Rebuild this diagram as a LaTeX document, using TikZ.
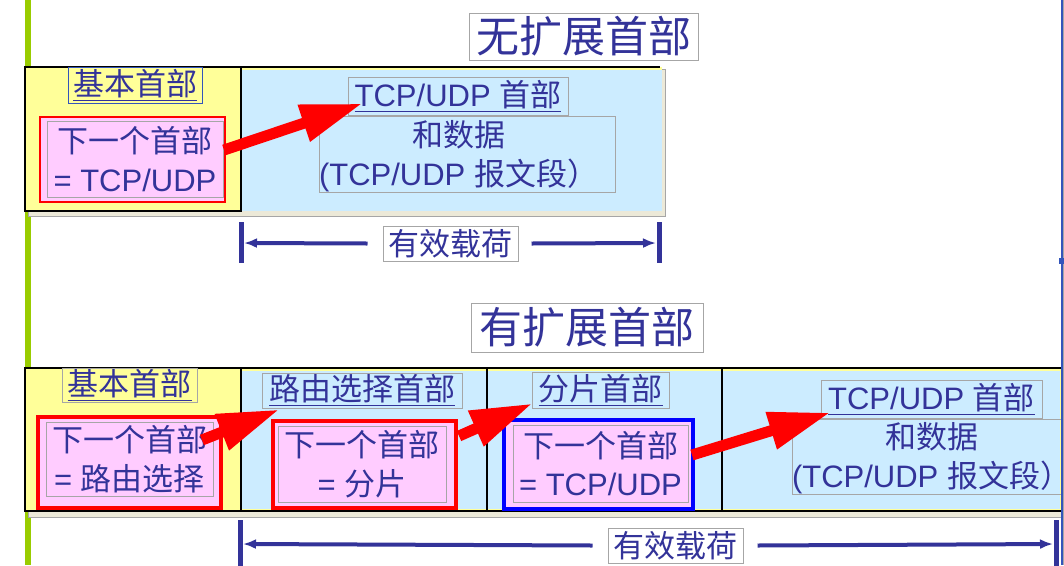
\documentclass[tikz,border=0pt]{standalone}
\usepackage{fontspec}
\setmainfont{Liberation Sans}
\newfontfamily\cjk{Noto Sans CJK SC}
\usetikzlibrary{arrows.meta,calc}
\definecolor{hdrtext}{HTML}{333399}
\definecolor{hdryellow}{HTML}{FFFF99}
\definecolor{hdrblue}{HTML}{CCECFF}
\definecolor{hdrpink}{HTML}{FFCCFF}
\definecolor{hdrgray}{HTML}{A6A6A6}
\definecolor{hdrbeige}{HTML}{ECE9D8}
\definecolor{hdrgreen}{HTML}{99CC00}
\definecolor{hdredge}{HTML}{3355BB}
\newcommand{\zh}[1]{{\cjk #1}}

\begin{document}
\begin{tikzpicture}[x=0.75pt,y=-0.75pt,
  font=\fontsize{23.25}{29}\selectfont,text=hdrtext,
  sz/.style 2 args={minimum width={#1*0.75pt},minimum height={#2*0.75pt}},
  txtbox/.style={draw=hdrgray,line width=0.75pt,inner sep=0pt,align=center},
  plaintxt/.style={inner sep=0pt,align=center},
  title/.style={txtbox,font=\fontsize{32.25}{36}\selectfont},
  redframe/.style={draw=red,fill=hdrpink,inner sep=0pt},
  hop/.style={red,line width=8.25pt,-{Triangle[length=46.5pt,width=27pt]}},
  paybar/.style={hdrtext,line width=3.75pt},
  payline/.style={hdrtext,line width=3pt,-{Latex[length=9.75pt,width=7.5pt]}}]
\useasboundingbox (0,0) rectangle (1064,565);
\fill[white] (0,0) rectangle (1064,565);
\fill[hdrgreen] (25,0) rectangle (31,565);

% without extension headers
\filldraw[fill=hdrbeige,draw=hdrgray,line width=0.75pt] (28,69) rectangle (665,216);
\fill[hdryellow] (25,67) rectangle (662,211);
\fill[hdrblue] (241,70) rectangle (662,211);
\draw[black,line width=1.5pt] (25,67) rectangle (241,211);
\draw[black,line width=1.5pt] (241,67) -- (660,67);
\node[title,sz={229}{47}] (plain) at (583.5,36.5) {\zh{无扩展首部}};
\node[txtbox,draw=hdredge,sz={134}{36}] (base1) at (135,85) {\underline{\zh{基本首部}}};
\node[redframe,line width=1.5pt,sz={185}{85}] (nh1) at (132.5,159.5) {};
\node[txtbox,sz={176}{76}] (nh1t) at (135,159) {\zh{下一个首部}\\= TCP/UDP};
\node[txtbox,sz={220}{38}] (tcp1) at (458,96) {\underline{TCP/UDP \zh{首部}}};
\node[txtbox,sz={296}{76}] (data1) at (467,154) {};
\node[plaintxt] (data1t) at (458.5,156) {\zh{和数据}\\(TCP/UDP \zh{报文段）}};
\draw[hop] ($(nh1.east)+(-2,-9.5)$) -- ($(tcp1.south west)+(15,-12)$);

\node[txtbox,sz={135}{35}] (pay1) at (450.5,243.5) {\zh{有效载荷}};
\coordinate (pay1L) at (241,243);
\coordinate (pay1R) at (659,243);
\draw[paybar] ($(pay1L)+(0,-21)$) -- ($(pay1L)+(0,20)$);
\draw[paybar] ($(pay1R)+(0,-21)$) -- ($(pay1R)+(0,20)$);
\draw[payline] ($(pay1.west)+(-15,0)$) -- ($(pay1L)+(3,0)$);
\draw[payline] ($(pay1.east)+(13,0)$) -- ($(pay1R)+(-3,0)$);

% with extension headers
\filldraw[fill=hdrbeige,draw=hdrgray,line width=0.75pt] (28,370) rectangle (1070,517);
\fill[hdryellow] (25,368) rectangle (1064,511);
\fill[hdrblue] (241,371) rectangle (1060,509);
\draw[black,line width=1.5pt] (1070,368) -- (25,368) -- (25,511) -- (1070,511);
\foreach \xd in {241,487,722}
  \draw[black,line width=1.5pt] (\xd,368) -- (\xd,511);
\node[title,sz={232}{49}] (ext) at (587,327.5) {\zh{有扩展首部}};
\node[txtbox,sz={135}{34}] (base2) at (129.5,385) {\underline{\zh{基本首部}}};
\node[redframe,line width=3pt,sz={183}{91}] (nh2) at (129.5,462.5) {};
\node[txtbox,sz={167}{74}] (nh2t) at (129.5,459) {\zh{下一个首部}\\= \zh{路由选择}};
\node[txtbox,sz={200}{35}] (route) at (362,390.5) {\underline{\zh{路由选择首部}}};
\node[redframe,line width=3pt,sz={183}{87}] (nh3) at (364.5,464.5) {};
\node[txtbox,sz={168}{76}] (nh3t) at (362,464) {\zh{下一个首部}\\= \zh{分片}};
\node[txtbox,sz={137}{36}] (frag) at (600.5,390) {\underline{\zh{分片首部}}};
\node[redframe,draw=blue,line width=3pt,sz={189}{89}] (nh4) at (598.5,464.5) {};
\node[txtbox,sz={175}{77}] (nh4t) at (600.5,463.5) {\zh{下一个首部}\\= TCP/UDP};
\node[txtbox,sz={221}{38}] (tcp2) at (931.5,399) {\underline{TCP/UDP \zh{首部}}};
\node[txtbox,sz={296}{75}] (data2) at (940,456.5) {};
\node[plaintxt] (data2t) at (931.5,458) {\zh{和数据}\\(TCP/UDP \zh{报文段）}};
\draw[hop] ($(nh2.east)+(-21,-22.5)$) -- ($(route.south west)+(18,1)$);
\draw[hop] ($(nh3.east)+(1,-28.5)$) -- ($(frag.south west)+(1,-5)$);
\draw[hop] ($(nh4.east)+(-3,-9.5)$) -- ($(tcp2.south west)+(10,-6)$);

\node[txtbox,sz={135}{35}] (pay2) at (675.5,545.5) {\zh{有效载荷}};
\coordinate (pay2L) at (240,544);
\coordinate (pay2R) at (1056,544);
\draw[paybar] ($(pay2L)+(0,-24)$) -- ($(pay2L)+(0,22)$);
\draw[paybar] ($(pay2R)+(0,-24)$) -- ($(pay2R)+(0,22)$);
\draw[payline] ($(pay2.west)+(-15,0)$) -- ($(pay2L)+(3,0)$);
\draw[payline] ($(pay2.east)+(14,0)$) -- ($(pay2R)+(-3,0)$);

% right edge of the slide
\fill[hdredge] (1061,0) rectangle (1062.5,565);
\fill[hdrgray] (1062.5,0) rectangle (1064,565);
\fill[hdredge] (1059,258) rectangle (1064,264);
\end{tikzpicture}
\end{document}
